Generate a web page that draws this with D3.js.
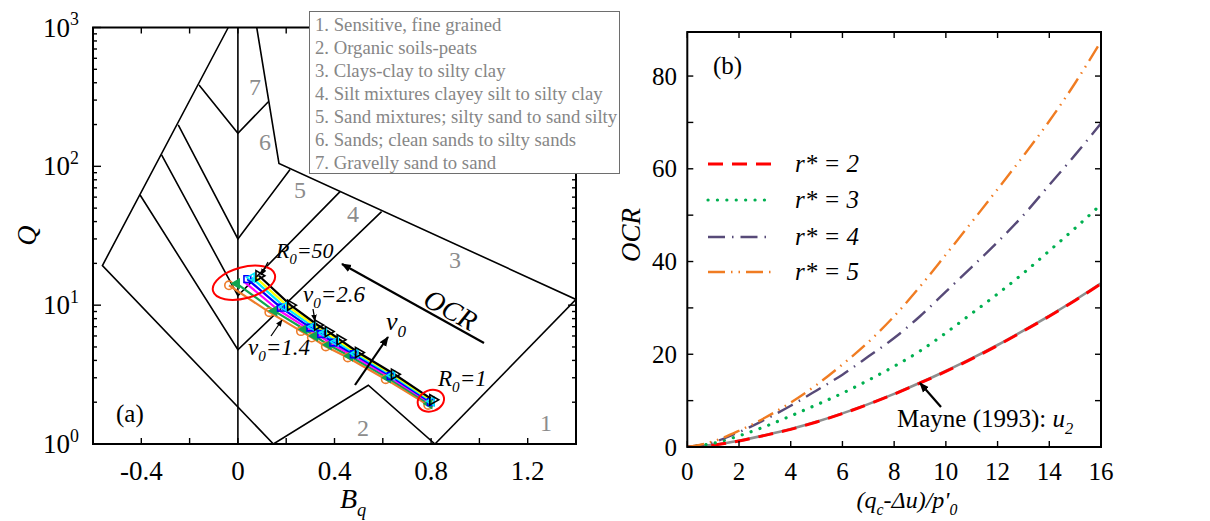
<!DOCTYPE html>
<html>
<head>
<meta charset="utf-8">
<script src="https://cdn.jsdelivr.net/npm/d3@7"></script>
<style>
  body { margin: 0; background: #fff; }
</style>
</head>
<body>
<svg id="fig" width="1210" height="521"></svg>
<script>
// ---------------- panel (a): Q - Bq soil classification ----------------
const bqTickLabels = [-0.4, 0, 0.4, 0.8, 1.2];
const qDecades = [0, 1, 2, 3];

const soilTypes = [
  "1. Sensitive, fine grained",
  "2. Organic soils-peats",
  "3. Clays-clay to silty clay",
  "4. Silt mixtures clayey silt to silty clay",
  "5. Sand mixtures; silty sand to sand silty",
  "6. Sands; clean sands to silty sands",
  "7. Gravelly sand to sand"
];

// zone boundaries as [Bq, Q] vertices
const outerLeft  = [[-0.04, 1000], [-0.561, 19.3], [0.147, 1]];
const bqZero     = [[0, 1], [0, 1000]];
const zone2Top   = [[0.147, 1], [0.54, 2.65], [0.816, 1]];
const zone1Edge  = [[0.816, 1], [1.4, 11]];
const upperEdge  = [[0.078, 1000], [0.17, 105], [1.4, 11]];
const border76   = [[0.126, 292], [0, 173], [-0.161, 385]];
const border65   = [[0.216, 95], [0, 30], [-0.247, 199]];
const border54   = [[0.423, 65.8], [0, 11.7], [-0.316, 121]];
const border43   = [[0.595, 47.2], [0, 4.77], [-0.405, 62.2]];

// zone number label positions [Bq, Q, label]
const zoneLabels = [
  [0.071, 373, "7"], [0.112, 150, "6"], [0.257, 67.6, "5"], [0.477, 46, "4"],
  [0.899, 21.2, "3"], [0.518, 1.31, "2"], [1.276, 1.42, "1"]
];

// CPTu paths, R0 = 50 ... 1, one series per v0
const v0Values = [1.4, 1.6, 1.8, 2.0, 2.2, 2.4, 2.6];
const bqV14 = [-0.037, 0.13, 0.261, 0.306, 0.364, 0.455, 0.612, 0.788];
const qV14  = [13.9, 8.9, 6.5, 5.85, 5.04, 4.2, 2.93, 1.91];
const bqV16 = [-0.005, 0.15, 0.275, 0.318, 0.375, 0.463, 0.620, 0.792];
const qV16  = [14.3, 9.1, 6.7, 6.0, 5.18, 4.3, 3.0, 1.95];
const bqV18 = [0.025, 0.165, 0.288, 0.333, 0.385, 0.472, 0.627, 0.796];
const qV18  = [14.8, 9.3, 6.8, 6.1, 5.28, 4.37, 3.05, 1.98];
const bqV20 = [0.039, 0.178, 0.300, 0.345, 0.395, 0.480, 0.633, 0.799];
const qV20  = [15.4, 9.6, 6.9, 6.2, 5.38, 4.43, 3.09, 2.0];
const bqV22 = [0.057, 0.192, 0.310, 0.356, 0.405, 0.487, 0.638, 0.802];
const qV22  = [15.8, 9.75, 7.0, 6.3, 5.46, 4.49, 3.12, 2.03];
const bqV24 = [0.071, 0.205, 0.320, 0.365, 0.414, 0.493, 0.643, 0.805];
const qV24  = [16.0, 9.9, 7.1, 6.38, 5.55, 4.52, 3.15, 2.05];
const bqV26 = [0.087, 0.218, 0.330, 0.374, 0.423, 0.499, 0.648, 0.807];
const qV26  = [16.3, 10.0, 7.2, 6.46, 5.63, 4.56, 3.18, 2.08];

// ---------------- panel (b): OCR vs normalised cone resistance ----------------
const xRatio = [0, 1, 2, 3, 4, 5, 6, 7, 8, 9, 10, 11, 12, 13, 14, 15, 16];
const ocrMayne = [0, 0.45, 1.35, 2.55, 3.9, 5.45, 7.25, 9.25, 11.45, 13.85, 16.4, 19.1, 22.0, 25.1, 28.3, 31.7, 35.3];
const ocrR2 = [0, 0.4, 1.3, 2.5, 3.8, 5.4, 7.2, 9.2, 11.4, 13.8, 16.3, 19.0, 21.9, 25.0, 28.2, 31.6, 35.2];
const ocrR3 = [0, 0.8, 2.4, 4.4, 6.7, 9.1, 11.6, 14.4, 17.4, 20.7, 24.6, 28.8, 33.0, 37.5, 42.3, 47.2, 52.3];
const ocrR4 = [0, 1.0, 3.2, 5.9, 8.9, 12.2, 15.6, 19.5, 23.5, 28.2, 33.5, 38.8, 44.2, 50.0, 56.5, 63.0, 69.8];
const ocrR5 = [0, 1.2, 3.5, 6.3, 9.6, 13.4, 17.8, 22.6, 28.2, 34.6, 41.5, 48.5, 55.6, 62.8, 70.3, 78.5, 87.5];
const rStarLabels = ["2", "3", "4", "5"];
const xTicksR = [0, 2, 4, 6, 8, 10, 12, 14, 16];
const yTicksR = [0, 20, 40, 60, 80];

// ---------------- font: first installed Times-like face ----------------
function pickSerif() {
  const ctx = document.createElement("canvas").getContext("2d");
  const sample = "Sensitive, fine grained 1993 OCR";
  const width = f => { ctx.font = "40px " + f; return ctx.measureText(sample).width; };
  const candidates = ["Liberation Serif", "Times New Roman", "Tinos", "DejaVu Serif", "Noto Serif", "FreeSerif", "Nimbus Roman"];
  for (const c of candidates) {
    const a = width(`"${c}", monospace`), b = width(`"${c}", sans-serif`);
    if (Math.abs(a - b) < 0.01 && Math.abs(a - width("monospace")) > 0.5) return `"${c}"`;
  }
  return "serif";
}
const svg = d3.select("#fig").attr("font-family", pickSerif() + ", serif");

// multi-part text with italic / sub / superscript pieces
function richText(g, x, y, parts, size, opts = {}) {
  const t = g.append("text").attr("x", x).attr("y", y).attr("font-size", size).attr("fill", opts.fill || "#000");
  if (opts.anchor) t.attr("text-anchor", opts.anchor);
  if (opts.italic) t.attr("font-style", "italic");
  let shift = 0;
  parts.forEach(p => {
    const ts = t.append("tspan").text(p.t);
    const target = p.sub ? size * 0.28 : p.sup ? -size * 0.42 : 0;
    if (target !== shift) ts.attr("dy", target - shift);
    shift = target;
    if (p.sub || p.sup) ts.attr("font-size", size * 0.66);
    if (p.it === true) ts.attr("font-style", "italic");
    if (p.it === false) ts.attr("font-style", "normal");
  });
  return t;
}

const defs = svg.append("defs");
defs.append("marker").attr("id", "head").attr("viewBox", "0 0 10 10")
  .attr("refX", 9).attr("refY", 5).attr("markerWidth", 10).attr("markerHeight", 10)
  .attr("markerUnits", "userSpaceOnUse").attr("orient", "auto")
  .append("path").attr("d", "M0,1 L10,5 L0,9 Z").attr("fill", "#000");
defs.append("marker").attr("id", "headSmall").attr("viewBox", "0 0 10 10")
  .attr("refX", 9).attr("refY", 5).attr("markerWidth", 7).attr("markerHeight", 7)
  .attr("markerUnits", "userSpaceOnUse").attr("orient", "auto")
  .append("path").attr("d", "M0,1 L10,5 L0,9 Z").attr("fill", "#000");

// ===== panel (a) =====
const xA = d3.scaleLinear().domain([-0.6, 1.4]).range([93, 576]);
const yA = d3.scaleLog().domain([1, 1000]).range([444, 27.5]);
const gA = svg.append("g");

defs.append("clipPath").attr("id", "clipA").append("rect")
  .attr("x", xA(-0.6)).attr("y", yA(1000)).attr("width", xA(1.4) - xA(-0.6)).attr("height", yA(1) - yA(1000));

const lineA = d3.line().x(d => xA(d[0])).y(d => yA(d[1]));
const zones = gA.append("g").attr("clip-path", "url(#clipA)");
[outerLeft, bqZero, zone2Top, zone1Edge, upperEdge, border76, border65, border54, border43].forEach(b => {
  zones.append("path").attr("d", lineA(b)).attr("fill", "none")
    .attr("stroke", "#000").attr("stroke-width", 1.6).attr("stroke-linejoin", "miter");
});

zoneLabels.forEach(([b, q, s]) => {
  gA.append("text").attr("x", xA(b)).attr("y", yA(q)).attr("text-anchor", "middle")
    .attr("dy", "0.35em").attr("font-size", 24).attr("fill", "#8c8c8c").text(s);
});

// paths
const seriesStyle = [
  { bq: bqV14, q: qV14, color: "#ee7d2b", sym: d3.symbolCircle, size: 55, fill: "none", rot: 0 },
  { bq: bqV16, q: qV16, color: "#10a450", sym: d3.symbolTriangle, size: 32, fill: "#10a450", rot: -90 },
  { bq: bqV18, q: qV18, color: "#ff00ff", sym: null },
  { bq: bqV20, q: qV20, color: "#0000ff", sym: d3.symbolSquare, size: 45, fill: "none", rot: 0 },
  { bq: bqV22, q: qV22, color: "#00e8ff", sym: d3.symbolTriangle, size: 32, fill: "none", rot: -90 },
  { bq: bqV24, q: qV24, color: "#ffff00", sym: null },
  { bq: bqV26, q: qV26, color: "#000000", sym: d3.symbolTriangle, size: 45, fill: "none", rot: 90 }
];
const pathG = gA.append("g");
seriesStyle.forEach(s => {
  const pts = s.bq.map((b, k) => [b, s.q[k]]);
  pathG.append("path").attr("d", lineA(pts)).attr("fill", "none")
    .attr("stroke", s.color).attr("stroke-width", 2.2);
});
seriesStyle.forEach(s => {
  if (!s.sym) return;
  const pts = s.bq.map((b, k) => [b, s.q[k]]);
  pathG.selectAll(null).data(pts).enter().append("path")
    .attr("d", d3.symbol().type(s.sym).size(s.size))
    .attr("transform", d => `translate(${xA(d[0])},${yA(d[1])}) rotate(${s.rot})`)
    .attr("fill", s.fill).attr("stroke", s.color).attr("stroke-width", 1.6);
});

// highlight rings at R0 = 50 and R0 = 1
gA.append("ellipse").attr("cx", xA(0.025)).attr("cy", yA(14.5)).attr("rx", 32).attr("ry", 15.6)
  .attr("transform", `rotate(-15 ${xA(0.025)} ${yA(14.5)})`)
  .attr("fill", "none").attr("stroke", "#ff0000").attr("stroke-width", 2);
gA.append("ellipse").attr("cx", xA(0.799)).attr("cy", yA(2.05)).attr("rx", 13.5).attr("ry", 10.5)
  .attr("transform", `rotate(-20 ${xA(0.799)} ${yA(2.05)})`)
  .attr("fill", "none").attr("stroke", "#ff0000").attr("stroke-width", 2);

// annotations
function arrow(g, x1, y1, x2, y2, small) {
  g.append("line").attr("x1", x1).attr("y1", y1).attr("x2", x2).attr("y2", y2)
    .attr("stroke", "#000").attr("stroke-width", small ? 1.3 : 2.2)
    .attr("marker-end", small ? "url(#headSmall)" : "url(#head)");
}
richText(gA, 276, 258, [{ t: "R" }, { t: "0", sub: true }, { t: "=50" }], 22, { italic: true });
arrow(gA, 268, 262, 261, 275, true);
richText(gA, 303, 302, [{ t: "v" }, { t: "0", sub: true }, { t: "=2.6" }], 23, { italic: true });
arrow(gA, 313, 309, 315, 321, true);
richText(gA, 248, 355, [{ t: "v" }, { t: "0", sub: true }, { t: "=1.4" }], 23, { italic: true });
arrow(gA, 271, 336, 282, 320, true);
arrow(gA, 355, 385, 388, 337, false);
richText(gA, 386, 330, [{ t: "v" }, { t: "0", sub: true }], 26, { italic: true });
arrow(gA, 484, 343, 342, 264, false);
gA.append("text").attr("x", 0).attr("y", 0).attr("font-size", 28).attr("font-style", "italic")
  .attr("text-anchor", "middle").attr("transform", "translate(446,318) rotate(29)").text("OCR");
richText(gA, 438, 386, [{ t: "R" }, { t: "0", sub: true }, { t: "=1" }], 23, { italic: true });
gA.append("text").attr("x", 116).attr("y", 422).attr("font-size", 25).text("(a)");

// axes (a)
const frameA = gA.append("g");
const tickA = frameA.append("g").attr("stroke", "#000").attr("stroke-width", 1.4);
d3.range(-0.6, 1.41, 0.2).forEach(v => {
  tickA.append("line").attr("x1", xA(v)).attr("x2", xA(v)).attr("y1", yA(1)).attr("y2", yA(1) - 6);
  tickA.append("line").attr("x1", xA(v)).attr("x2", xA(v)).attr("y1", yA(1000)).attr("y2", yA(1000) + 6);
});
qDecades.forEach(p => {
  const base = Math.pow(10, p);
  tickA.append("line").attr("x1", xA(-0.6)).attr("x2", xA(-0.6) + 8).attr("y1", yA(base)).attr("y2", yA(base));
  tickA.append("line").attr("x1", xA(1.4)).attr("x2", xA(1.4) - 8).attr("y1", yA(base)).attr("y2", yA(base));
  if (p < 3) d3.range(2, 10).forEach(m => {
    const v = m * base;
    tickA.append("line").attr("x1", xA(-0.6)).attr("x2", xA(-0.6) + 4).attr("y1", yA(v)).attr("y2", yA(v));
    tickA.append("line").attr("x1", xA(1.4)).attr("x2", xA(1.4) - 4).attr("y1", yA(v)).attr("y2", yA(v));
  });
});
frameA.append("rect").attr("x", xA(-0.6)).attr("y", yA(1000))
  .attr("width", xA(1.4) - xA(-0.6)).attr("height", yA(1) - yA(1000))
  .attr("fill", "none").attr("stroke", "#000").attr("stroke-width", 2);

bqTickLabels.forEach(v => {
  gA.append("text").attr("x", xA(v)).attr("y", 480).attr("text-anchor", "middle")
    .attr("font-size", 27).text(v === 0 ? "0" : d3.format(".1f")(v).replace("\u2212", "-"));
});
qDecades.forEach(p => {
  richText(gA, 43, yA(Math.pow(10, p)) + 9, [{ t: "10" }, { t: String(p), sup: true }], 27);
});
richText(gA, 340, 508, [{ t: "B" }, { t: "q", sub: true }], 28, { italic: true });
gA.append("text").attr("font-size", 28).attr("font-style", "italic").attr("text-anchor", "middle")
  .attr("transform", `translate(36,${(yA(1) + yA(1000)) / 2}) rotate(-90)`).text("Q");

// soil type key
const key = svg.append("g");
key.append("rect").attr("x", 309.5).attr("y", 11.5).attr("width", 310).attr("height", 162)
  .attr("fill", "#fff").attr("stroke", "#6e6e6e").attr("stroke-width", 1);
soilTypes.forEach((s, i) => {
  key.append("text").attr("x", 315).attr("y", 31 + i * 23).attr("font-size", 18.7)
    .attr("fill", "#868686").text(s);
});

// ===== panel (b) =====
const xB = d3.scaleLinear().domain([0, 16]).range([687.3, 1101]);
const yB = d3.scaleLinear().domain([0, 89.5]).range([447, 32]);
const gB = svg.append("g");
const lineB = d3.line().x((d, i) => xB(xRatio[i])).y(d => yB(d)).curve(d3.curveMonotoneX);

const curves = [
  { v: ocrMayne, color: "#8e8e8e", w: 2.6, dash: null },
  { v: ocrR2, color: "#ff0000", w: 3, dash: "15,9" },
  { v: ocrR3, color: "#00b050", w: 3.2, dash: "0.1,9.3", cap: "round" },
  { v: ocrR4, color: "#574a78", w: 2.4, dash: "17,7,1.5,7" },
  { v: ocrR5, color: "#f07c22", w: 2.4, dash: "17,6,1.5,6,1.5,6" }
];
defs.append("clipPath").attr("id", "clipB").append("rect")
  .attr("x", xB(0)).attr("y", yB(89.5)).attr("width", xB(16) - xB(0)).attr("height", yB(0) - yB(89.5));
const curveG = gB.append("g").attr("clip-path", "url(#clipB)");
curves.forEach(c => {
  const p = curveG.append("path").attr("d", lineB(c.v)).attr("fill", "none")
    .attr("stroke", c.color).attr("stroke-width", c.w);
  if (c.dash) p.attr("stroke-dasharray", c.dash);
  if (c.cap) p.attr("stroke-linecap", c.cap);
});

// legend (b)
curves.slice(1).forEach((c, i) => {
  const y = [164, 200, 237, 272][i];
  const p = gB.append("line").attr("x1", 708).attr("x2", 773).attr("y1", y).attr("y2", y)
    .attr("stroke", c.color).attr("stroke-width", c.w);
  if (c.dash) p.attr("stroke-dasharray", c.dash);
  if (c.cap) p.attr("stroke-linecap", c.cap);
  gB.append("text").attr("x", 795).attr("y", y + 8).attr("font-size", 25)
    .attr("font-style", "italic").text("r* = " + rStarLabels[i]);
});
gB.append("text").attr("x", 713).attr("y", 74).attr("font-size", 25).text("(b)");

// Mayne label
richText(gB, 897, 427, [{ t: "Mayne (1993):  " }, { t: "u", it: true }, { t: "2", sub: true, it: true }], 25);
arrow(gB, 941, 407, 920, 383, false);

// axes (b)
const tickB = gB.append("g").attr("stroke", "#000").attr("stroke-width", 1.4);
xTicksR.forEach(v => {
  tickB.append("line").attr("x1", xB(v)).attr("x2", xB(v)).attr("y1", yB(0)).attr("y2", yB(0) - 6);
  tickB.append("line").attr("x1", xB(v)).attr("x2", xB(v)).attr("y1", yB(89.5)).attr("y2", yB(89.5) + 6);
});
d3.range(0, 81, 10).forEach(v => {
  tickB.append("line").attr("x1", xB(0)).attr("x2", xB(0) + 6).attr("y1", yB(v)).attr("y2", yB(v));
  tickB.append("line").attr("x1", xB(16)).attr("x2", xB(16) - 6).attr("y1", yB(v)).attr("y2", yB(v));
});
gB.append("rect").attr("x", xB(0)).attr("y", yB(89.5)).attr("width", xB(16) - xB(0))
  .attr("height", yB(0) - yB(89.5)).attr("fill", "none").attr("stroke", "#000").attr("stroke-width", 2);

xTicksR.forEach(v => {
  gB.append("text").attr("x", xB(v)).attr("y", 480).attr("text-anchor", "middle")
    .attr("font-size", 25).text(v);
});
yTicksR.forEach(v => {
  gB.append("text").attr("x", 677).attr("y", yB(v) + 8.5).attr("text-anchor", "end")
    .attr("font-size", 25).text(v);
});
richText(gB, 907, 508, [
  { t: "(q" }, { t: "c", sub: true }, { t: "-Δu)/p'" }, { t: "0", sub: true }
], 24, { italic: true, anchor: "middle" });
gB.append("text").attr("font-size", 27).attr("font-style", "italic").attr("text-anchor", "middle")
  .attr("transform", "translate(640,235) rotate(-90)").text("OCR");
</script>
</body>
</html>
